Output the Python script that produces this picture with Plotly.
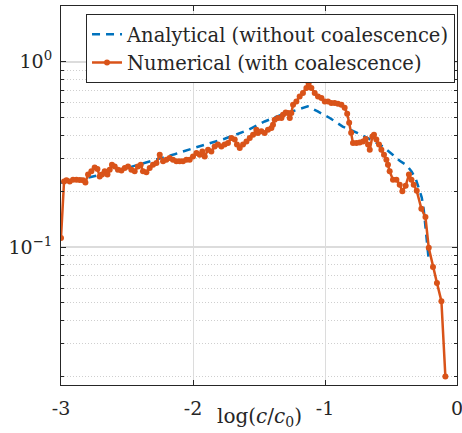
import plotly.graph_objects as go

# Numerical (with coalescence): log(c/c0) and value
num_x = [-3.000, -2.977, -2.959, -2.934, -2.909, -2.883, -2.858, -2.833, -2.815, -2.795,
         -2.770, -2.745, -2.724, -2.707, -2.689, -2.669, -2.648, -2.631, -2.614, -2.593,
         -2.568, -2.542, -2.517, -2.492, -2.467, -2.442, -2.417, -2.396, -2.379, -2.353,
         -2.328, -2.303, -2.277, -2.252, -2.227, -2.202, -2.177, -2.152, -2.126, -2.101,
         -2.076, -2.050, -2.025, -2.000, -1.974, -1.949, -1.929, -1.911, -1.886, -1.861,
         -1.836, -1.811, -1.785, -1.760, -1.735, -1.709, -1.684, -1.667, -1.646, -1.621,
         -1.595, -1.570, -1.545, -1.520, -1.508, -1.482, -1.457, -1.432, -1.406, -1.394,
         -1.381, -1.356, -1.330, -1.318, -1.298, -1.280, -1.267, -1.255, -1.242, -1.217,
         -1.192, -1.167, -1.141, -1.124, -1.103, -1.078, -1.053, -1.027, -1.002, -0.977,
         -0.952, -0.927, -0.902, -0.876, -0.851, -0.832, -0.817, -0.802, -0.788, -0.762,
         -0.737, -0.712, -0.692, -0.674, -0.661, -0.641, -0.629, -0.611, -0.591, -0.573,
         -0.553, -0.535, -0.523, -0.510, -0.485, -0.459, -0.434, -0.414, -0.389, -0.364,
         -0.345, -0.328, -0.305, -0.270, -0.239, -0.214, -0.182, -0.152, -0.118, -0.088]
num_y = [0.112, 0.226, 0.229, 0.226, 0.231, 0.231, 0.230, 0.229, 0.223, 0.246,
         0.256, 0.269, 0.264, 0.240, 0.246, 0.256, 0.246, 0.261, 0.278, 0.272,
         0.261, 0.259, 0.267, 0.272, 0.261, 0.256, 0.272, 0.278, 0.256, 0.253,
         0.267, 0.278, 0.284, 0.315, 0.290, 0.296, 0.302, 0.296, 0.290, 0.290,
         0.290, 0.296, 0.296, 0.308, 0.322, 0.315, 0.328, 0.308, 0.335, 0.328,
         0.349, 0.357, 0.349, 0.357, 0.364, 0.388, 0.380, 0.357, 0.342, 0.357,
         0.371, 0.388, 0.404, 0.430, 0.412, 0.421, 0.412, 0.430, 0.439, 0.457,
         0.486, 0.497, 0.497, 0.518, 0.533, 0.529, 0.497, 0.529, 0.586, 0.610,
         0.650, 0.678, 0.721, 0.761, 0.721, 0.678, 0.650, 0.637, 0.610, 0.610,
         0.599, 0.599, 0.593, 0.586, 0.565, 0.524, 0.469, 0.414, 0.364, 0.364,
         0.367, 0.371, 0.383, 0.357, 0.335, 0.395, 0.404, 0.380, 0.357, 0.335,
         0.315, 0.296, 0.278, 0.256, 0.231, 0.231, 0.217, 0.200, 0.214, 0.246,
         0.231, 0.217, 0.201, 0.161, 0.145, 0.099, 0.078, 0.064, 0.051, 0.020]

# Analytical (without coalescence)
ana_x = [-3.000, -2.783, -2.555, -2.328, -2.139, -1.949, -1.760, -1.586, -1.457, -1.328,
         -1.207, -1.131, -1.055, -0.964, -0.866, -0.752, -0.661, -0.563, -0.487, -0.434,
         -0.381, -0.343, -0.313, -0.290, -0.267, -0.252, -0.237, -0.226, -0.214]
ana_y = [0.222, 0.238, 0.260, 0.289, 0.317, 0.350, 0.384, 0.427, 0.476, 0.518,
         0.551, 0.574, 0.539, 0.497, 0.447, 0.412, 0.382, 0.349, 0.315, 0.292,
         0.276, 0.255, 0.234, 0.209, 0.185, 0.159, 0.127, 0.103, 0.085]

x_ticks = [-3, -2, -1, 0]
x_ticktext = ["-3", "-2", "-1", "0"]
y_ticks = [0.1, 1]
y_ticktext = ["10<sup>\u22121</sup>", "10<sup>0</sup>"]
y_minor = [0.02, 0.03, 0.04, 0.05, 0.06, 0.07, 0.08, 0.09,
           0.2, 0.3, 0.4, 0.5, 0.6, 0.7, 0.8, 0.9, 2]

BLUE = "#0072BD"
ORANGE = "#D95319"
FRAME = "#262626"
FONT = "DejaVu Serif, serif"

fig = go.Figure()
fig.add_trace(go.Scatter(
    x=ana_x, y=ana_y, mode="lines", name="Analytical (without coalescence)",
    line=dict(color=BLUE, width=2.5, dash="8px,6px")))
fig.add_trace(go.Scatter(
    x=num_x, y=num_y, mode="lines+markers", name="Numerical (with coalescence)",
    line=dict(color=ORANGE, width=2.5), marker=dict(size=6, color=ORANGE)))

fig.update_layout(
    width=462, height=433,
    margin=dict(l=61, r=5, t=6, b=48),
    paper_bgcolor="white", plot_bgcolor="white",
    font=dict(family=FONT, color="#262626", size=19),
    showlegend=True,
    legend=dict(x=0.995, y=0.979, xanchor="right", yanchor="top",
                bgcolor="white", bordercolor=FRAME, borderwidth=1,
                font=dict(family=FONT, size=19.5, color="#262626"),
                tracegroupgap=0),
    xaxis=dict(range=[-3, 0], tickvals=x_ticks, ticktext=x_ticktext, automargin=False,
               ticklabeloverflow="allow",
               showline=True, linecolor=FRAME, linewidth=1, mirror="ticks",
               ticks="inside", ticklen=5, tickcolor=FRAME,
               showgrid=True, gridcolor="#dcdcdc", gridwidth=1, zeroline=False,
               tickfont=dict(size=19), ticklabelstandoff=6),
    yaxis=dict(type="log", range=[-1.745, 0.301], tickvals=y_ticks, ticktext=y_ticktext,
               automargin=False,
               showline=True, linecolor=FRAME, linewidth=1, mirror="ticks",
               ticks="inside", ticklen=5, tickcolor=FRAME,
               showgrid=True, gridcolor="#dcdcdc", gridwidth=1.5, zeroline=False,
               tickfont=dict(size=19), ticklabelstandoff=4,
               minor=dict(tickvals=y_minor, ticks="inside", ticklen=3, tickcolor=FRAME,
                          showgrid=True, gridcolor="#cfcfcf", griddash="1px,2px", gridwidth=1)),
    annotations=[dict(text="log(<i>c</i>/<i>c</i><sub>0</sub>)", xref="paper", yref="paper",
                      x=0.5025, y=-0.084, xanchor="center", yanchor="middle",
                      showarrow=False, font=dict(family=FONT, size=20, color="#262626"))],
)

fig.write_html("out.html", config={"displayModeBar": False},
               post_script="document.body.style.margin='0';")
